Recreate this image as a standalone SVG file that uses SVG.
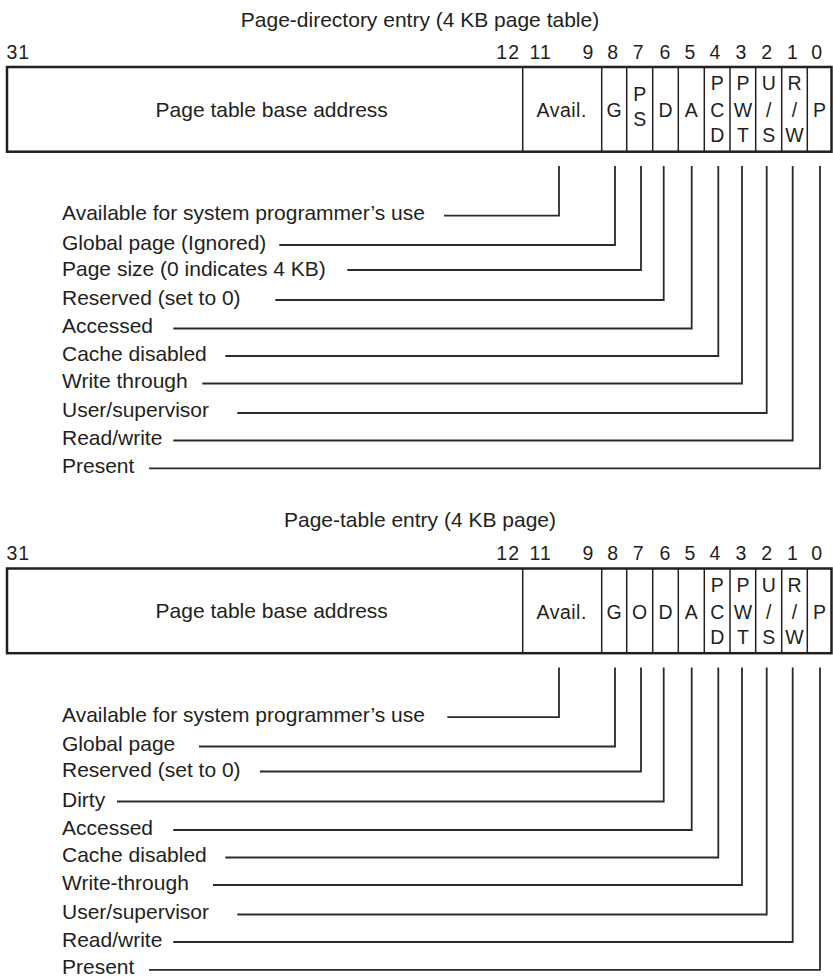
<svg xmlns="http://www.w3.org/2000/svg" width="833" height="977" viewBox="0 0 833 977">
<style>
text{font-family:"Liberation Sans",Arial,Helvetica,sans-serif;fill:#231f20}
.title{font-size:21px;text-anchor:middle}
.lbl{font-size:21px}
.big{font-size:21px;text-anchor:middle}
.num{font-size:19.5px;text-anchor:middle}
.cell{font-size:19.5px;text-anchor:middle}
.box{fill:#fff;stroke:#231f20;stroke-width:2.5}
.div{stroke:#231f20;stroke-width:1.5;fill:none}
.lead{stroke:#2b2b2b;stroke-width:1.8;fill:none}
</style>
<rect width="833" height="977" fill="#fff"/>

<!-- Section 1: Page-directory entry -->
<g id="pde">
  <text class="title" x="420" y="27">Page-directory entry (4 KB page table)</text>
  <g id="pde-bits">
    <text class="num" x="6.5" y="58.7" style="text-anchor:start" letter-spacing="1">31</text>
    <text class="num" x="520" y="58.7" style="text-anchor:end" letter-spacing="1">12</text>
    <text class="num" x="529.5" y="58.7" style="text-anchor:start" letter-spacing="1">11</text>
    <text class="num" x="588" y="58.7">9</text>
    <text class="num" x="612.7" y="58.7">8</text>
    <text class="num" x="638.3" y="58.7">7</text>
    <text class="num" x="665" y="58.7">6</text>
    <text class="num" x="690" y="58.7">5</text>
    <text class="num" x="715" y="58.7">4</text>
    <text class="num" x="741" y="58.7">3</text>
    <text class="num" x="766.7" y="58.7">2</text>
    <text class="num" x="792.4" y="58.7">1</text>
    <text class="num" x="816.7" y="58.7">0</text>
  </g>
  <rect class="box" x="7" y="67" width="824.5" height="84.7"/>
  <g id="pde-base"><text class="big" x="271.7" y="116.5">Page table base address</text></g>
  <g id="pde-avail"><line class="div" x1="522.7" y1="67" x2="522.7" y2="151.7"/><text class="cell" x="561.7" y="117" letter-spacing="0.5">Avail.</text></g>
  <g id="pde-g"><line class="div" x1="601.7" y1="67" x2="601.7" y2="151.7"/><text class="cell" x="614.2" y="117">G</text></g>
  <g id="pde-ps"><line class="div" x1="626.7" y1="67" x2="626.7" y2="151.7"/><text class="cell" x="639.7" y="101">P</text><text class="cell" x="639.7" y="126">S</text></g>
  <g id="pde-d"><line class="div" x1="652.7" y1="67" x2="652.7" y2="151.7"/><text class="cell" x="665.5" y="117">D</text></g>
  <g id="pde-a"><line class="div" x1="678.3" y1="67" x2="678.3" y2="151.7"/><text class="cell" x="691.3" y="117">A</text></g>
  <g id="pde-pcd"><line class="div" x1="704.3" y1="67" x2="704.3" y2="151.7"/><text class="cell" x="717.2" y="90">P</text><text class="cell" x="717.2" y="117">C</text><text class="cell" x="717.2" y="142">D</text></g>
  <g id="pde-pwt"><line class="div" x1="730" y1="67" x2="730" y2="151.7"/><text class="cell" x="742.9" y="90">P</text><text class="cell" x="742.9" y="117">W</text><text class="cell" x="742.9" y="142">T</text></g>
  <g id="pde-us"><line class="div" x1="755.7" y1="67" x2="755.7" y2="151.7"/><text class="cell" x="768.7" y="90">U</text><text class="cell" x="768.7" y="117">/</text><text class="cell" x="768.7" y="142">S</text></g>
  <g id="pde-rw"><line class="div" x1="781.7" y1="67" x2="781.7" y2="151.7"/><text class="cell" x="794.5" y="90">R</text><text class="cell" x="794.5" y="117">/</text><text class="cell" x="794.5" y="142">W</text></g>
  <g id="pde-p"><line class="div" x1="807.3" y1="67" x2="807.3" y2="151.7"/><text class="cell" x="819.5" y="117">P</text></g>
  <g id="pde-labels">
    <text class="lbl" x="62" y="220.3">Available for system programmer’s use</text>
    <text class="lbl" x="62" y="249.5">Global page (Ignored)</text>
    <text class="lbl" x="62" y="275.5">Page size (0 indicates 4 KB)</text>
    <text class="lbl" x="62" y="305">Reserved (set to 0)</text>
    <text class="lbl" x="62" y="333.3">Accessed</text>
    <text class="lbl" x="62" y="360.5">Cache disabled</text>
    <text class="lbl" x="62" y="388.3">Write through</text>
    <text class="lbl" x="62" y="417">User/supervisor</text>
    <text class="lbl" x="62" y="445">Read/write</text>
    <text class="lbl" x="62" y="472.5">Present</text>
  </g>
</g>
<g id="pde-connectors">
  <path class="lead" d="M444 215.7H559V166"/>
  <path class="lead" d="M279.3 245H615V166"/>
  <path class="lead" d="M347.3 270H641V166"/>
  <path class="lead" d="M275.3 300H663.7V166"/>
  <path class="lead" d="M173.3 328.5H691.7V166"/>
  <path class="lead" d="M225.3 356H718.3V166"/>
  <path class="lead" d="M202.3 383.5H742V166"/>
  <path class="lead" d="M237.3 413H766.7V166"/>
  <path class="lead" d="M173.3 440.5H792.7V166"/>
  <path class="lead" d="M149 468.3H820V166"/>
</g>

<!-- Section 2: Page-table entry -->
<g transform="translate(0 501.5)">
<g id="pte">
  <text class="title" x="420" y="25">Page-table entry (4 KB page)</text>
  <g id="pte-bits">
    <text class="num" x="6.5" y="58.7" style="text-anchor:start" letter-spacing="1">31</text>
    <text class="num" x="520" y="58.7" style="text-anchor:end" letter-spacing="1">12</text>
    <text class="num" x="529.5" y="58.7" style="text-anchor:start" letter-spacing="1">11</text>
    <text class="num" x="588" y="58.7">9</text>
    <text class="num" x="612.7" y="58.7">8</text>
    <text class="num" x="638.3" y="58.7">7</text>
    <text class="num" x="665" y="58.7">6</text>
    <text class="num" x="690" y="58.7">5</text>
    <text class="num" x="715" y="58.7">4</text>
    <text class="num" x="741" y="58.7">3</text>
    <text class="num" x="766.7" y="58.7">2</text>
    <text class="num" x="792.4" y="58.7">1</text>
    <text class="num" x="816.7" y="58.7">0</text>
  </g>
  <rect class="box" x="7" y="67" width="824.5" height="84.7"/>
  <g id="pte-base"><text class="big" x="271.7" y="116.5">Page table base address</text></g>
  <g id="pte-avail"><line class="div" x1="522.7" y1="67" x2="522.7" y2="151.7"/><text class="cell" x="561.7" y="117" letter-spacing="0.5">Avail.</text></g>
  <g id="pte-g"><line class="div" x1="601.7" y1="67" x2="601.7" y2="151.7"/><text class="cell" x="614.2" y="117">G</text></g>
  <g id="pte-o"><line class="div" x1="626.7" y1="67" x2="626.7" y2="151.7"/><text class="cell" x="639.7" y="117">O</text></g>
  <g id="pte-d"><line class="div" x1="652.7" y1="67" x2="652.7" y2="151.7"/><text class="cell" x="665.5" y="117">D</text></g>
  <g id="pte-a"><line class="div" x1="678.3" y1="67" x2="678.3" y2="151.7"/><text class="cell" x="691.3" y="117">A</text></g>
  <g id="pte-pcd"><line class="div" x1="704.3" y1="67" x2="704.3" y2="151.7"/><text class="cell" x="717.2" y="90">P</text><text class="cell" x="717.2" y="117">C</text><text class="cell" x="717.2" y="142">D</text></g>
  <g id="pte-pwt"><line class="div" x1="730" y1="67" x2="730" y2="151.7"/><text class="cell" x="742.9" y="90">P</text><text class="cell" x="742.9" y="117">W</text><text class="cell" x="742.9" y="142">T</text></g>
  <g id="pte-us"><line class="div" x1="755.7" y1="67" x2="755.7" y2="151.7"/><text class="cell" x="768.7" y="90">U</text><text class="cell" x="768.7" y="117">/</text><text class="cell" x="768.7" y="142">S</text></g>
  <g id="pte-rw"><line class="div" x1="781.7" y1="67" x2="781.7" y2="151.7"/><text class="cell" x="794.5" y="90">R</text><text class="cell" x="794.5" y="117">/</text><text class="cell" x="794.5" y="142">W</text></g>
  <g id="pte-p"><line class="div" x1="807.3" y1="67" x2="807.3" y2="151.7"/><text class="cell" x="819.5" y="117">P</text></g>
  <g id="pte-labels">
    <text class="lbl" x="62" y="220.3">Available for system programmer’s use</text>
    <text class="lbl" x="62" y="249.5">Global page</text>
    <text class="lbl" x="62" y="275.5">Reserved (set to 0)</text>
    <text class="lbl" x="62" y="305">Dirty</text>
    <text class="lbl" x="62" y="333.3">Accessed</text>
    <text class="lbl" x="62" y="360.5">Cache disabled</text>
    <text class="lbl" x="62" y="388.3">Write-through</text>
    <text class="lbl" x="62" y="417">User/supervisor</text>
    <text class="lbl" x="62" y="445">Read/write</text>
    <text class="lbl" x="62" y="472.5">Present</text>
  </g>
</g>
<g id="pte-connectors">
  <path class="lead" d="M447.3 215.7H559V166"/>
  <path class="lead" d="M199 245H615V166"/>
  <path class="lead" d="M260 270H641V166"/>
  <path class="lead" d="M117 300H663.7V166"/>
  <path class="lead" d="M173.3 328.5H691.7V166"/>
  <path class="lead" d="M225.3 356H718.3V166"/>
  <path class="lead" d="M213 383.5H742V166"/>
  <path class="lead" d="M237.3 413H766.7V166"/>
  <path class="lead" d="M173.3 440.5H792.7V166"/>
  <path class="lead" d="M149 468.3H820V166"/>
</g>
</g>
</svg>
